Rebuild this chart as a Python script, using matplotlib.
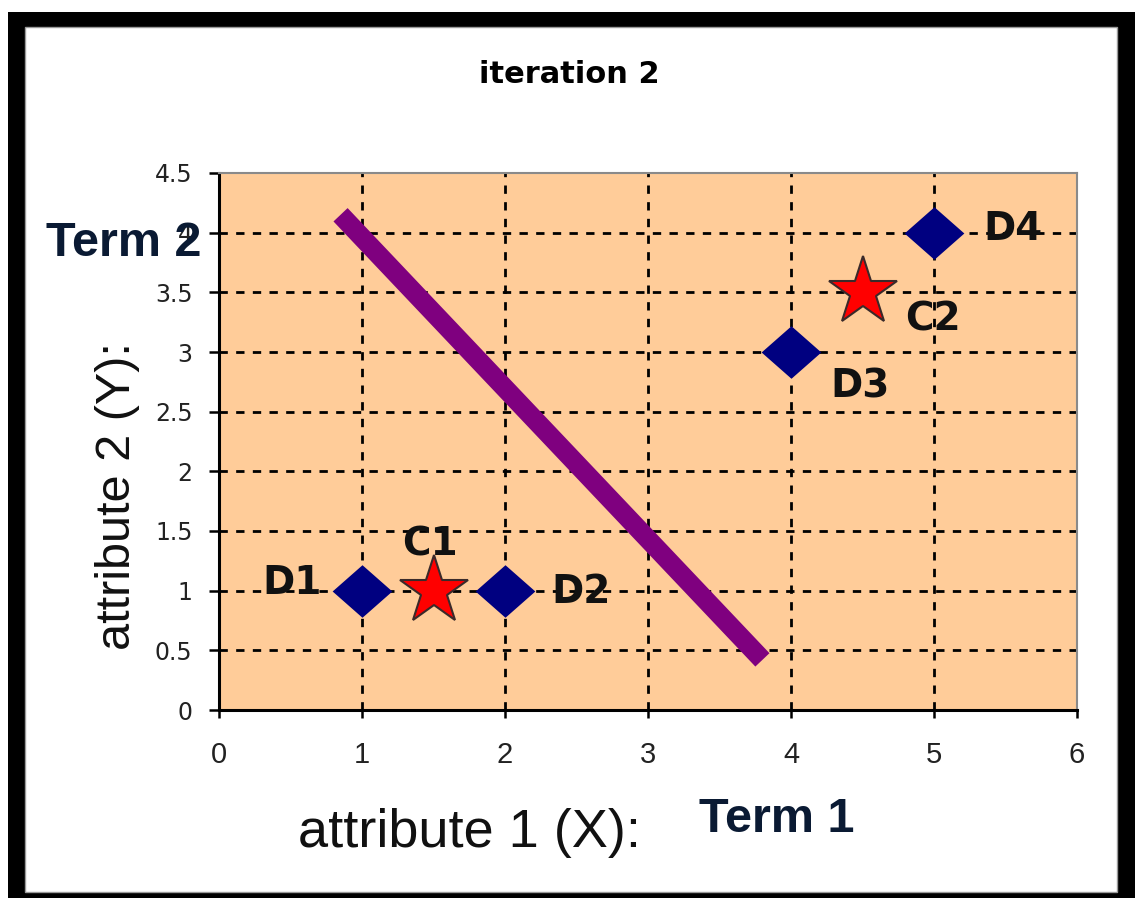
import matplotlib
matplotlib.use('Agg')
import matplotlib.pyplot as plt
from matplotlib.patches import Rectangle

plt.rcParams['font.family'] = ['DejaVu Sans']

# data points (documents and centroids)
doc_names = ['D1', 'D2', 'D3', 'D4']
doc_x = [1, 2, 4, 5]
doc_y = [1, 1, 3, 4]

cent_names = ['C1', 'C2']
cent_x = [1.5, 4.5]
cent_y = [1, 3.5]

# separating line between the two clusters
line_x = [0.85, 3.8]
line_y = [4.15, 0.42]

x_ticks = [0, 1, 2, 3, 4, 5, 6]
x_tick_labels = ['0', '1', '2', '3', '4', '5', '6']
y_ticks = [0, 0.5, 1, 1.5, 2, 2.5, 3, 3.5, 4, 4.5]
y_tick_labels = ['0', '0.5', '1', '1.5', '2', '2.5', '3', '3.5', '4', '4.5']

# label offsets in pixels (text centre x, baseline y)
doc_offsets = [(-70, -3), (76, -12), (69, -45), (79, -7)]
cent_offsets = [(-4, 35), (70, -38)]

W, H = 1135, 898
fig = plt.figure(figsize=(W / 100, H / 100), dpi=100)
fig.patch.set_facecolor('white')

# black frame around the picture
fig.add_artist(Rectangle((8 / W, 0), 1 - 8 / W, 1 - 12 / H, transform=fig.transFigure,
                         facecolor='black', edgecolor='none', zorder=-10))
fig.add_artist(Rectangle((25 / W, 6 / H), (1117 - 25) / W, (892 - 27) / H,
                         transform=fig.transFigure, facecolor='white',
                         edgecolor='#9a9a9a', linewidth=1, zorder=-9))

ax = fig.add_axes([219 / W, 1 - 710 / H, (1077 - 219) / W, (710 - 173) / H])
ax.set_facecolor('#FFCC99')
ax.set_xlim(0, 6)
ax.set_ylim(0, 4.5)

# dashed grid, interior only
for v in x_ticks[1:-1]:
    ax.axvline(v, color='black', linestyle=(0, (3, 3)), linewidth=2, zorder=1)
for v in y_ticks[1:-1]:
    ax.axhline(v, color='black', linestyle=(0, (3, 3)), linewidth=2, zorder=1)

ax.plot(line_x, line_y, color='#7F007F', linewidth=14, solid_capstyle='butt', zorder=2)

diamond = [(-1, 0), (0, 0.88), (1, 0), (0, -0.88), (-1, 0)]
ax.plot(doc_x, doc_y, linestyle='none', marker=diamond, markersize=43,
        color='#000080', markeredgewidth=0, zorder=3)
ax.plot(cent_x, cent_y, linestyle='none', marker='*', markersize=52,
        markerfacecolor='#FF0000', markeredgecolor='#3a2a2a', markeredgewidth=1.5, zorder=4)

for name, x, y, off in zip(doc_names, doc_x, doc_y, doc_offsets):
    ax.annotate(name, (x, y), xytext=off, textcoords='offset pixels', ha='center',
                va='baseline', fontsize=28, fontweight='bold', color='#111111', zorder=5)
for name, x, y, off in zip(cent_names, cent_x, cent_y, cent_offsets):
    ax.annotate(name, (x, y), xytext=off, textcoords='offset pixels', ha='center',
                va='baseline', fontsize=28, fontweight='bold', color='#111111', zorder=5)

ax.set_xticks(x_ticks)
ax.set_xticklabels(x_tick_labels, fontfamily='Liberation Sans', fontsize=21, color='#222222')
ax.set_yticks(y_ticks)
ax.set_yticklabels(y_tick_labels, fontsize=17, color='#222222')
ax.tick_params(axis='x', direction='out', length=6, width=1.8, pad=16)
ax.tick_params(axis='y', direction='out', length=7, width=1.8, pad=12)

for s in ['left', 'bottom']:
    ax.spines[s].set_color('black')
    ax.spines[s].set_linewidth(2.2)
for s in ['top', 'right']:
    ax.spines[s].set_color('#8a8a8a')
    ax.spines[s].set_linewidth(1.5)

# axis labels
ax.set_xlabel('attribute 1 (X):', fontfamily='Liberation Sans', fontsize=39, color='#111111')
ax.xaxis.label.set_va('baseline')
ax.xaxis.set_label_coords((469 - 219) / 858, -(847 - 710) / 537)

ax.set_ylabel('attribute 2 (Y):', fontfamily='Liberation Sans', fontsize=35, color='#111111')
ax.yaxis.label.set_rotation_mode('anchor')
ax.yaxis.label.set_va('baseline')
ax.yaxis.label.set_ha('center')
ax.yaxis.set_label_coords(-(219 - 130) / 858, (710 - 496) / 537)

fig.text(569 / W, 1 - 83 / H, 'iteration 2', ha='center', va='baseline',
         fontsize=22, fontweight='bold', color='black')
fig.text(699 / W, 1 - 832 / H, 'Term 1', ha='left', va='baseline',
         fontfamily='Liberation Sans', fontsize=35, fontweight='bold', color='#0a1a33')
fig.text(202 / W, 1 - 256 / H, 'Term 2', ha='right', va='baseline',
         fontfamily='Liberation Sans', fontsize=35, fontweight='bold', color='#0a1a33')

fig.savefig('out.png', dpi=100)
